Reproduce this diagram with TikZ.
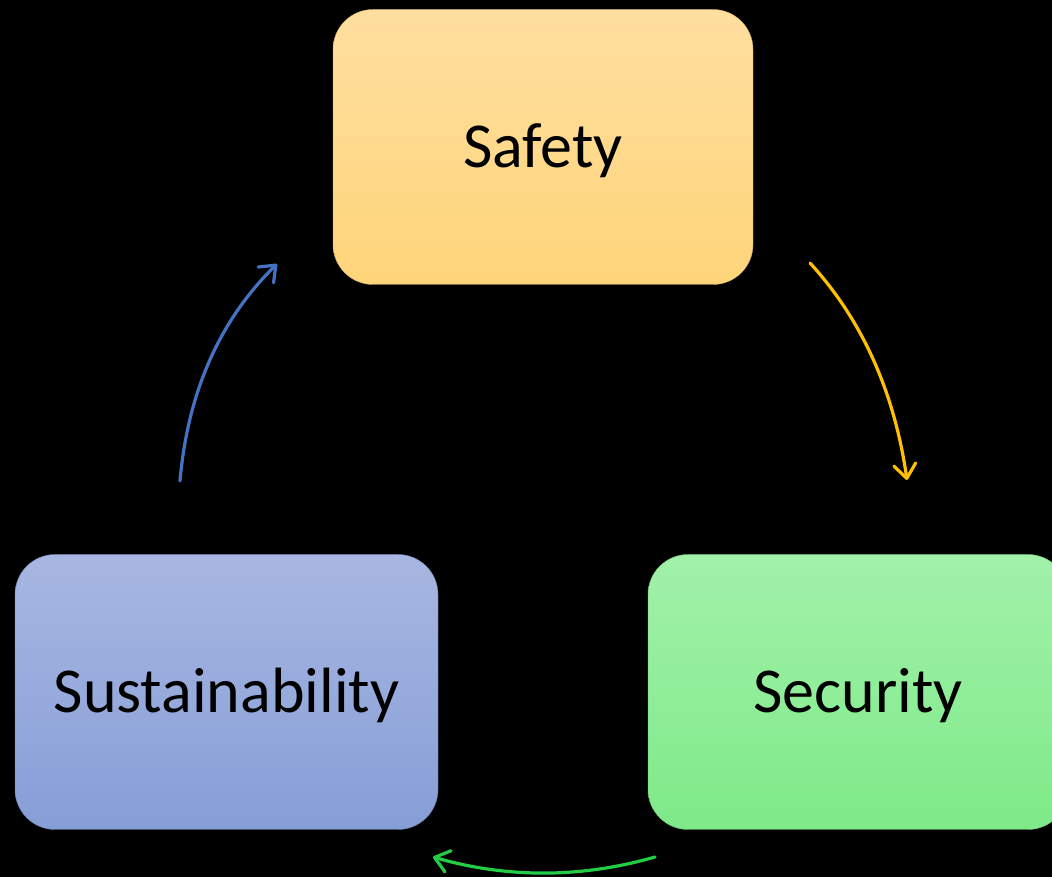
\documentclass[tikz,border=0pt]{standalone}
\usepackage{fontspec}
\setmainfont{Carlito}
\usetikzlibrary{arrows.meta}
\definecolor{safetop}{RGB}{255,223,160}
\definecolor{safebot}{RGB}{255,213,122}
\definecolor{sustop}{RGB}{168,183,225}
\definecolor{susbot}{RGB}{134,158,215}
\definecolor{sectop}{RGB}{162,241,170}
\definecolor{secbot}{RGB}{126,234,136}
\definecolor{arrblue}{RGB}{68,114,196}
\definecolor{arryellow}{RGB}{255,192,0}
\definecolor{arrgreen}{RGB}{34,204,68}
\tikzset{
  box/.style={rectangle, rounded corners=40pt, minimum height=275pt,
    text=black, font=\fontsize{64}{72}\selectfont, inner sep=0pt,
    text height=41pt, text depth=0pt},
  flow/.style={line width=3.2pt, line cap=round,
    -{Straight Barb[length=14pt,width=22pt,line cap=round,line join=round]}}
}
\begin{document}
\begin{tikzpicture}[x=1pt,y=1pt]
\fill[black] (0,0) rectangle (1052,877);
\useasboundingbox (0,0) rectangle (1052,877);
\begin{scope}
\clip (0,0) rectangle (1052,877);
\node[box, minimum width=420pt, top color=safetop, bottom color=safebot, draw=safebot!80!black, line width=0.4pt] (safety) at (543,730) {Safety};
\node[box, minimum width=423pt, top color=sustop, bottom color=susbot, draw=susbot!80!black, line width=0.4pt] (sust) at (226.5,185) {Sustainability};
\node[box, minimum width=420pt, top color=sectop, bottom color=secbot, draw=secbot!80!black, line width=0.4pt] (secu) at (858,185) {Security};
\end{scope}
\coordinate (b1) at (180,396);
\coordinate (b2) at (277,613);
\coordinate (y1) at (810,614);
\coordinate (y2) at (907,397);
\coordinate (g1) at (655,20);
\coordinate (g2) at (433,20);
\draw[flow, arrblue] (b1) .. controls (187.7,485) and (220,557.3) .. (b2);
\draw[flow, arryellow] (y1) .. controls (862,557.3) and (894.3,485) .. (y2);
\draw[flow, arrgreen] (g1) .. controls (581,-1.3) and (507,-1.3) .. (g2);
\end{tikzpicture}
\end{document}
